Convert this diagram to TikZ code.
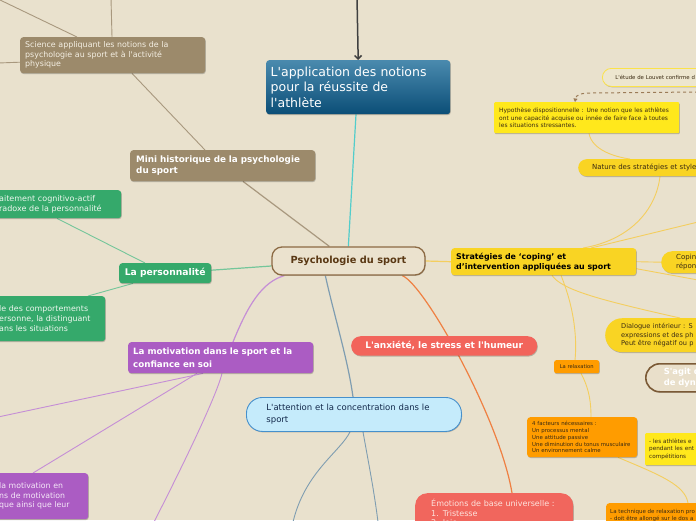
\documentclass[tikz,border=0pt]{standalone}
\usepackage{fontspec}
\setmainfont{DejaVu Sans}[Ligatures=TeXOff]
\usetikzlibrary{arrows.meta,shadows}
\pgfdeclarelayer{back}
\pgfdeclarelayer{lines}
\pgfsetlayers{back,lines,main}
\definecolor{bgc}{HTML}{E9E1CD}
\definecolor{brownc}{HTML}{9C8A6B}
\definecolor{creamt}{HTML}{F4EFE3}
\definecolor{brownl}{HTML}{A8987E}
\definecolor{apptop}{HTML}{4A8AAE}
\definecolor{appbot}{HTML}{0B4E77}
\definecolor{tealc}{HTML}{52CDCB}
\definecolor{psyb}{HTML}{8C6A44}
\definecolor{psyf}{HTML}{EBE2CE}
\definecolor{psyt}{HTML}{5A3814}
\definecolor{greenc}{HTML}{35A96B}
\definecolor{greenl}{HTML}{74C69A}
\definecolor{greent}{HTML}{EEF7EF}
\definecolor{purpc}{HTML}{AB5CC3}
\definecolor{purpl}{HTML}{C58ED6}
\definecolor{purpt}{HTML}{F5E8F8}
\definecolor{attf}{HTML}{C5EBFB}
\definecolor{attb}{HTML}{4690CC}
\definecolor{attt}{HTML}{13294B}
\definecolor{attl}{HTML}{7F9DB1}
\definecolor{redc}{HTML}{F2645B}
\definecolor{emoc}{HTML}{F1665D}
\definecolor{emot}{HTML}{FDE3DD}
\definecolor{orl}{HTML}{EF8042}
\definecolor{yel}{HTML}{F9D423}
\definecolor{yell}{HTML}{F4CE5E}
\definecolor{bright}{HTML}{FFE81C}
\definecolor{oran}{HTML}{FF9C00}
\definecolor{smallt}{HTML}{3A2A12}
\definecolor{louf}{HTML}{EDE6CF}
\definecolor{loub}{HTML}{FBE24A}
\definecolor{sagf}{HTML}{E9DFCA}
\definecolor{sagb}{HTML}{7B5A36}
\definecolor{dashc}{HTML}{9B7B57}
\begin{document}
\begin{tikzpicture}[x=1pt,y=-1pt,
  box/.style={anchor=north west, rounded corners=3pt, inner ysep=0pt, align=left,
    drop shadow={shadow xshift=0.6pt, shadow yshift=-0.9pt, opacity=0.22, fill=black}},
  branch/.style={line width=1.2pt},
  twig/.style={line width=0.9pt}]
\useasboundingbox (0,0) rectangle (696,520);
\begin{pgfonlayer}{back}
\fill[bgc] (0,0) rectangle (696,520);
\end{pgfonlayer}

% ---------- nodes ----------
\node[box, fill=brownc, text=creamt, minimum width=185pt, minimum height=36pt, inner xsep=5pt, text width=175pt,
  font=\fontsize{7.9}{9.5}\selectfont] (sci) at (20,37)
  {Science appliquant les notions de la\\psychologie au sport et à l'activité\\physique};
\node[box, top color=apptop, bottom color=appbot, text=white, minimum width=184pt, minimum height=54pt,
  inner xsep=4.5pt, text width=175pt, font=\fontsize{12.5}{15.5}\selectfont] (app) at (266,60)
  {L'application des notions\\pour la réussite de\\l'athlète};
\node[box, fill=brownc, text=white, minimum width=185pt, minimum height=31pt, inner xsep=6pt, text width=173pt,
  font=\bfseries\fontsize{8.8}{11}\selectfont] (hist) at (130,150)
  {Mini historique de la psychologie\\du sport};
\node[draw=psyb, line width=1.3pt, fill=psyf, rounded corners=10pt, minimum width=153pt, minimum height=28pt,
  text=psyt, font=\bfseries\fontsize{9.8}{12}\selectfont,
  drop shadow={shadow xshift=0.6pt, shadow yshift=-0.9pt, opacity=0.18, fill=black}] (psy) at (348.5,261)
  {Psychologie du sport};
\node[box, fill=greenc, text=white, minimum width=92pt, minimum height=20pt, inner xsep=0pt, align=center,
  font=\bfseries\fontsize{9.2}{11}\selectfont] (pers) at (119,263) {La personnalité};
\node[box, fill=greenc, text=greent, minimum width=127pt, minimum height=28pt, inner xsep=5pt, text width=117pt,
  font=\fontsize{8}{10}\selectfont] (gA) at (-6,190)
  {aitement cognitivo-actif\\radoxe de la personnalité};
\node[box, fill=greenc, text=greent, minimum width=111pt, minimum height=45pt, inner xsep=5pt, text width=101pt,
  font=\fontsize{7.9}{9.8}\selectfont] (gB) at (-6,296)
  {le des comportements\\ersonne, la distinguant\\ans les situations};
\node[box, fill=purpc, text=white, minimum width=185pt, minimum height=31pt, inner xsep=5pt, text width=175pt,
  font=\bfseries\fontsize{8.7}{12.5}\selectfont] (motiv) at (128,342)
  {La motivation dans le sport et la\\confiance en soi};
\node[box, fill=purpc, text=purpt, minimum width=94pt, minimum height=46pt, inner xsep=5pt, text width=84pt,
  font=\fontsize{7.8}{9.6}\selectfont] (pB) at (-6,473)
  {la motivation en\\ns de motivation\\que ainsi que leur};
\node[box, draw=attb, line width=0.9pt, fill=attf, rounded corners=16pt, minimum width=215pt, minimum height=34pt,
  inner xsep=20pt, text width=175pt, text=attt, font=\fontsize{8.5}{12}\selectfont] (att) at (246,397)
  {L'attention et la concentration dans le\\sport};
\node[box, fill=redc, text=white, rounded corners=9.5pt, minimum width=186pt, minimum height=19.5pt, inner xsep=0pt,
  align=center, font=\bfseries\fontsize{9}{10}\selectfont] (anx) at (351,336)
  {L'anxiété, le stress et l'humeur};
\node[box, fill=emoc, text=emot, rounded corners=12pt, minimum width=158pt, minimum height=40pt, inner xsep=16pt,
  text width=126pt, font=\fontsize{8}{9.5}\selectfont] (emo) at (415,493)
  {Émotions de base universelle :\\1. Tristesse\\2. Joie};
\node[box, fill=yel, text=black, minimum width=185pt, minimum height=27pt, inner xsep=5pt, text width=175pt,
  font=\bfseries\fontsize{7.9}{10}\selectfont] (strat) at (451,248)
  {Stratégies de ‘coping’ et\\d’intervention appliquées au sport};
\node[box, fill=yel, text=smallt, rounded corners=11pt, minimum width=70pt, minimum height=22pt, inner xsep=15pt,
  text width=40pt, font=\fontsize{7}{8.5}\selectfont] (coping) at (661,251) {Coping\\répon};
\node[box, fill=yel, text=smallt, rounded corners=8.5pt, minimum width=148pt, minimum height=17pt, inner xsep=14pt,
  text width=120pt, font=\fontsize{7}{8}\selectfont] (nature) at (578,159) {Nature des stratégies et style};
\node[box, fill=bright, text=smallt, rounded corners=1pt, minimum width=185pt, minimum height=31pt, inner xsep=5pt,
  text width=175pt, font=\fontsize{5.95}{7.7}\selectfont] (hyp) at (494,102)
  {Hypothèse dispositionnelle : Une notion que les athlètes\\ont une capacité acquise ou innée de faire face à toutes\\les situations stressantes.};
\node[box, fill=louf, draw=loub, line width=0.8pt, text=smallt, rounded corners=9pt, minimum width=120pt,
  minimum height=18pt, inner xsep=13pt, text width=94pt, font=\fontsize{5.4}{7}\selectfont,
  drop shadow={opacity=0}] (louvet) at (602,68) {L'étude de Louvet confirme d};
\node[box, fill=yel, text=smallt, rounded corners=17pt, minimum width=120pt, minimum height=34pt, inner xsep=16pt,
  text width=88pt, font=\fontsize{6.6}{8.2}\selectfont] (dial) at (605,318)
  {Dialogue intérieur : S\\expressions et des ph\\Peut être négatif ou p};
\node[box, fill=sagf, draw=sagb, line width=1.6pt, text=white, rounded corners=14pt, minimum width=90pt,
  minimum height=28pt, inner xsep=18pt, text width=54pt, font=\bfseries\fontsize{8.4}{10.5}\selectfont] (sagit) at (645,363)
  {S'agit d\\de dyna};
\node[box, fill=oran, text=smallt, rounded corners=2pt, minimum width=45pt, minimum height=13pt, inner xsep=0pt,
  align=center, font=\fontsize{5.2}{6.5}\selectfont] (relax) at (554,360) {La relaxation};
\node[box, fill=oran, text=smallt, minimum width=110pt, minimum height=40pt, inner xsep=5pt, text width=100pt,
  font=\fontsize{5.4}{6.7}\selectfont] (fact) at (527,417)
  {4 facteurs nécessaires :\\Un processus mental\\Une attitude passive\\Une diminution du tonus musculaire\\Un environnement calme};
\node[box, fill=bright, text=smallt, rounded corners=1pt, minimum width=60pt, minimum height=32pt, inner xsep=4pt,
  text width=52pt, font=\fontsize{5.7}{7.5}\selectfont] (athl) at (645,433)
  {- les athlètes e\\pendant les ent\\compétitions};
\node[box, fill=oran, text=smallt, minimum width=100pt, minimum height=25pt, inner xsep=4pt, text width=92pt,
  font=\fontsize{5.5}{7}\selectfont] (tech) at (606,503)
  {La technique de relaxation pro\\- doit être allongé sur le dos a};

% ---------- free ends ----------
\coordinate (tl) at (-2,-1);
\coordinate (tv) at (111,-2);
\coordinate (lw) at (-2,63);
\coordinate (atop) at (357,-3);
\coordinate (pl1) at (-2,417);
\coordinate (pl2) at (154,522);
\coordinate (al1) at (293,522);
\coordinate (al2) at (378,522);
\coordinate (sr1) at (698,222);
\coordinate (sr2) at (698,280);
\coordinate (dsA) at (698,92);
\coordinate (dsB) at (592,93);

% ---------- connectors ----------
\begin{pgfonlayer}{lines}
\draw[brownl, twig] (tl) -- ([xshift=57pt]sci.north west);
\draw[brownl, twig] (tv) -- ([xshift=92pt]sci.north west);
\draw[brownl, twig] (lw) -- ([yshift=-7pt]sci.west);
\draw[brownl, twig] ([xshift=112pt]sci.south west) -- ([xshift=75pt]hist.north west);
\draw[brownl, branch] ([xshift=113pt]hist.south west) -- ([xshift=58pt]psy.north west);
\draw[tealc, branch] ([xshift=90pt]app.south west) -- ([xshift=77pt]psy.north west);
\draw[greenl, branch] ([yshift=3pt]pers.east) -- ([yshift=-5pt]psy.west);
\draw[greenl, twig] ([xshift=26pt]pers.north west) -- ([xshift=63pt]gA.south west);
\draw[greenl, twig] ([xshift=14pt]pers.south west) -- ([xshift=94pt]gB.north west);
\draw[purpl, branch] ([xshift=13pt]psy.south west) .. controls (262,282) and (248,305) .. ([xshift=105pt]motiv.north west);
\draw[purpl, twig] ([xshift=75pt]motiv.south west) -- (pl1);
\draw[purpl, twig] ([xshift=69pt]motiv.south west) -- ([xshift=39pt]pB.north west);
\draw[purpl, twig] ([xshift=94pt]motiv.south west) .. controls (216,398) and (178,475) .. (pl2);
\draw[attl, branch] ([xshift=54pt]psy.south west) .. controls (334,315) and (348,360) .. ([xshift=107pt]att.north west);
\draw[attl, twig] ([xshift=104pt]att.south west) .. controls (340,452) and (305,472) .. (al1);
\draw[attl, twig] ([xshift=117pt]att.south west) .. controls (368,460) and (374,490) .. (al2);
\draw[orl, branch] ([xshift=131pt]psy.south west) .. controls (425,285) and (500,420) .. ([xshift=97pt]emo.north west);
\draw[yell, branch] (psy.east) -- (strat.west);
\draw[yell, twig] ([xshift=132pt]strat.north west) .. controls (630,240) and (656,210) .. ([xshift=82pt]nature.south west);
\draw[yell, twig] ([xshift=140pt]strat.north west) -- (sr1);
\draw[yell, twig] (strat.east) -- (coping.west);
\draw[yell, twig] ([yshift=-7pt]strat.east) -- (sr2);
\draw[yell, twig] ([xshift=101pt]strat.south west) .. controls (562,290) and (600,300) .. ([xshift=75pt]dial.north west);
\draw[yell, twig] ([xshift=110pt]strat.south west) .. controls (575,310) and (577,340) .. ([xshift=21pt]relax.north west);
\draw[yell, twig] ([xshift=95pt]hyp.south west) .. controls (592,150) and (615,157) .. ([xshift=52pt]nature.north west);
\draw[yell, twig] ([xshift=27pt]relax.south west) .. controls (590,390) and (591,405) .. ([xshift=64pt]fact.north west);
\draw[yell, twig] ([xshift=91pt]fact.south west) .. controls (660,475) and (685,485) .. ([xshift=82pt]tech.north west);
\draw[dashc, line width=1pt, dashed, -{Triangle[length=3.5pt,width=4pt]}] (dsA) -- (dsB)
  .. controls (580,93) and (576,95) .. ([xshift=81pt]hyp.north west);
\draw[black!75, line width=1.5pt, -{Straight Barb[length=3.5pt,width=7pt]}] (atop) -- (app.north);
\end{pgfonlayer}
\end{tikzpicture}
\end{document}
